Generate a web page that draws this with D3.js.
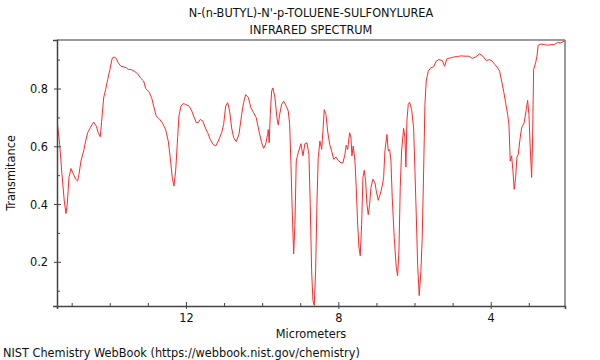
<!DOCTYPE html>
<html>
<head>
<meta charset="utf-8">
<script src="https://cdn.jsdelivr.net/npm/d3@7"></script>
<style>
  body { margin: 0; background: #fff; }
  text { font-family: "DejaVu Sans Condensed", "DejaVu Sans", sans-serif; font-stretch: condensed; }
</style>
</head>
<body>
<svg id="chart" width="600" height="360"></svg>
<script>
// Spectrum: wavelength (micrometers) and transmittance
var micrometers = [
  15.37, 15.315, 15.262, 15.194, 15.150, 15.116, 15.071, 15.018, 14.958, 14.895,
  14.843, 14.808, 14.756, 14.685, 14.633, 14.580, 14.512, 14.423, 14.354, 14.302,
  14.249, 14.213, 14.160, 14.108, 14.055, 13.995, 13.934, 13.882, 13.829, 13.777,
  13.706, 13.635, 13.567, 13.514, 13.444, 13.357, 13.268, 13.181, 13.110, 13.058,
  12.971, 12.900, 12.848, 12.780, 12.690, 12.622, 12.533, 12.465, 12.412, 12.360,
  12.315, 12.270, 12.218, 12.184, 12.131, 12.071, 12.008, 11.921, 11.861, 11.798,
  11.730, 11.677, 11.625, 11.554, 11.501, 11.430, 11.362, 11.291, 11.220, 11.152,
  11.063, 11.010, 10.958, 10.905, 10.853, 10.801, 10.748, 10.680, 10.609, 10.538,
  10.486, 10.433, 10.365, 10.294, 10.223, 10.155, 10.084, 10.013, 9.961, 9.908,
  9.856, 9.840, 9.814, 9.787, 9.751, 9.717, 9.664, 9.612, 9.577, 9.541,
  9.488, 9.436, 9.367, 9.315, 9.278, 9.244, 9.210, 9.173, 9.139, 9.105,
  9.052, 8.982, 8.929, 8.877, 8.824, 8.772, 8.738, 8.701, 8.667, 8.632,
  8.596, 8.562, 8.528, 8.483, 8.438, 8.404, 8.370, 8.325, 8.281, 8.228,
  8.176, 8.123, 8.063, 8.003, 7.932, 7.879, 7.827, 7.793, 7.756, 7.703,
  7.669, 7.643, 7.609, 7.564, 7.530, 7.493, 7.459, 7.425, 7.388, 7.354,
  7.320, 7.283, 7.249, 7.215, 7.178, 7.144, 7.092, 7.039, 7.005, 6.953,
  6.900, 6.848, 6.811, 6.777, 6.724, 6.690, 6.653, 6.619, 6.585, 6.533,
  6.480, 6.444, 6.409, 6.375, 6.339, 6.286, 6.252, 6.226, 6.200, 6.165,
  6.129, 6.076, 6.024, 5.989, 5.955, 5.919, 5.877, 5.832, 5.798, 5.761,
  5.727, 5.693, 5.640, 5.570, 5.499, 5.430, 5.360, 5.273, 5.210, 5.150,
  5.063, 4.974, 4.869, 4.782, 4.677, 4.572, 4.485, 4.396, 4.291, 4.205,
  4.118, 4.029, 3.961, 3.890, 3.819, 3.766, 3.714, 3.661, 3.609, 3.556,
  3.522, 3.488, 3.451, 3.417, 3.383, 3.346, 3.312, 3.278, 3.226, 3.189,
  3.121, 3.068, 3.031, 2.997, 2.963, 2.926, 2.900, 2.874, 2.821, 2.787,
  2.753, 2.682, 2.596, 2.507, 2.420, 2.333, 2.244, 2.157, 2.052
];
var transmittance = [
  0.674, 0.607, 0.515, 0.411, 0.367, 0.399, 0.492, 0.523, 0.505, 0.486,
  0.480, 0.503, 0.549, 0.584, 0.618, 0.647, 0.664, 0.684, 0.670, 0.647,
  0.633, 0.687, 0.768, 0.797, 0.831, 0.866, 0.906, 0.909, 0.904, 0.889,
  0.877, 0.875, 0.872, 0.866, 0.866, 0.860, 0.851, 0.835, 0.826, 0.800,
  0.789, 0.768, 0.739, 0.705, 0.693, 0.682, 0.658, 0.618, 0.561, 0.492,
  0.462, 0.515, 0.630, 0.705, 0.739, 0.748, 0.745, 0.739, 0.727, 0.705,
  0.682, 0.682, 0.693, 0.687, 0.667, 0.647, 0.624, 0.607, 0.601, 0.618,
  0.647, 0.676, 0.739, 0.751, 0.722, 0.664, 0.630, 0.616, 0.641, 0.710,
  0.751, 0.779, 0.770, 0.733, 0.716, 0.699, 0.653, 0.612, 0.593, 0.607,
  0.641, 0.658, 0.612, 0.710, 0.791, 0.802, 0.768, 0.699, 0.674, 0.710,
  0.745, 0.756, 0.739, 0.722, 0.676, 0.537, 0.377, 0.227, 0.330, 0.549,
  0.578, 0.609, 0.567, 0.609, 0.612, 0.572, 0.399, 0.169, 0.066, 0.049,
  0.169, 0.399, 0.561, 0.618, 0.589, 0.653, 0.727, 0.710, 0.653, 0.607,
  0.584, 0.555, 0.563, 0.551, 0.543, 0.543, 0.572, 0.604, 0.589, 0.647,
  0.630, 0.567, 0.601, 0.549, 0.457, 0.330, 0.250, 0.221, 0.330, 0.492,
  0.517, 0.480, 0.399, 0.363, 0.399, 0.457, 0.486, 0.474, 0.446, 0.413,
  0.434, 0.463, 0.492, 0.584, 0.641, 0.584, 0.589, 0.549, 0.422, 0.284,
  0.181, 0.152, 0.238, 0.457, 0.584, 0.662, 0.630, 0.528, 0.687, 0.745,
  0.753, 0.727, 0.664, 0.515, 0.365, 0.192, 0.083, 0.169, 0.284, 0.515,
  0.745, 0.826, 0.860, 0.872, 0.875, 0.895, 0.900, 0.897, 0.877, 0.903,
  0.906, 0.909, 0.911, 0.913, 0.912, 0.912, 0.904, 0.909, 0.920, 0.912,
  0.897, 0.900, 0.895, 0.883, 0.872, 0.860, 0.826, 0.791, 0.751, 0.710,
  0.676, 0.549, 0.567, 0.515, 0.451, 0.492, 0.563, 0.572, 0.630, 0.664,
  0.682, 0.727, 0.759, 0.710, 0.595, 0.492, 0.630, 0.866, 0.889, 0.912,
  0.950, 0.954, 0.952, 0.950, 0.952, 0.952, 0.959, 0.958, 0.966
];
var xTickValues = [12, 8, 4];
var xMinorValues = [15, 14, 13, 11, 10, 9, 7, 6, 5, 3];
var yTickValues = [0.2, 0.4, 0.6, 0.8];
var yMinorValues = [0.1, 0.3, 0.5, 0.7, 0.9];
var titleLines = ["N-(n-BUTYL)-N'-p-TOLUENE-SULFONYLUREA", "INFRARED SPECTRUM"];

var fontSize = 12.6;
var svg = d3.select("#chart");
var margin = {top: 40, right: 35, bottom: 54, left: 57};
var width = 600 - margin.left - margin.right;
var height = 360 - margin.top - margin.bottom;

var x = d3.scaleLinear().domain([15.385, 2.05]).range([0, width]);
var y = d3.scaleLinear().domain([0.047, 0.968]).range([height, 0]);

var g = svg.append("g").attr("transform", "translate(" + margin.left + "," + margin.top + ")");

// frame (top / right in gray)
g.append("line").attr("x1", 0).attr("x2", width).attr("y1", 0).attr("y2", 0)
  .attr("stroke", "#9a9a9a").attr("stroke-width", 2);
g.append("line").attr("x1", width).attr("x2", width).attr("y1", 0).attr("y2", height)
  .attr("stroke", "#9a9a9a").attr("stroke-width", 2);

// spectrum
var pts = micrometers.map(function(m, i) { return [m, transmittance[i]]; });
g.append("path")
  .datum(pts)
  .attr("fill", "none")
  .attr("stroke", "#ff2a2a")
  .attr("stroke-width", 1)
  .attr("d", d3.line().x(function(d) { return x(d[0]); }).y(function(d) { return y(d[1]); }));

// axes
var xAxis = g.append("g").attr("transform", "translate(0," + height + ")")
  .call(d3.axisBottom(x).tickValues(xTickValues).tickSize(3).tickPadding(4).tickFormat(d3.format("d")));
xAxis.selectAll(".tick line").attr("y1", -4).attr("y2", 3);
var xMinor = g.append("g").attr("transform", "translate(0," + height + ")")
  .call(d3.axisBottom(x).tickValues(xMinorValues).tickSize(-3).tickFormat(""));
xMinor.select(".domain").remove();

var yAxis = g.append("g")
  .call(d3.axisLeft(y).tickValues(yTickValues).tickSize(4).tickPadding(5).tickFormat(d3.format(".1f")));
yAxis.selectAll(".tick line").attr("x1", 4).attr("x2", -3);
var yMinor = g.append("g")
  .call(d3.axisLeft(y).tickValues(yMinorValues).tickSize(-3).tickFormat(""));
yMinor.select(".domain").remove();

g.selectAll(".domain").attr("stroke", "#444").attr("stroke-width", 1.5);
g.selectAll(".tick line").attr("stroke", "#444");
g.selectAll(".tick text").attr("font-size", fontSize).attr("fill", "#111")
  .attr("font-family", "'DejaVu Sans Condensed', 'DejaVu Sans', sans-serif");

// labels
g.append("text").attr("x", width / 2).attr("y", height + 32).attr("text-anchor", "middle")
  .attr("font-size", fontSize).attr("fill", "#111").text("Micrometers");
svg.append("text").attr("transform", "translate(15," + (margin.top + height / 2) + ") rotate(-90)")
  .attr("text-anchor", "middle").attr("font-size", fontSize).attr("fill", "#111").text("Transmitance");

svg.selectAll(".title").data(titleLines).enter().append("text")
  .attr("class", "title")
  .attr("x", margin.left + width / 2)
  .attr("y", function(d, i) { return 17 + i * 17; })
  .attr("text-anchor", "middle").attr("font-size", fontSize).attr("fill", "#111")
  .text(function(d) { return d; });

svg.append("text").attr("x", 3).attr("y", 357).attr("font-size", fontSize).attr("fill", "#111")
  .text("NIST Chemistry WebBook (https://webbook.nist.gov/chemistry)");
</script>
</body>
</html>
